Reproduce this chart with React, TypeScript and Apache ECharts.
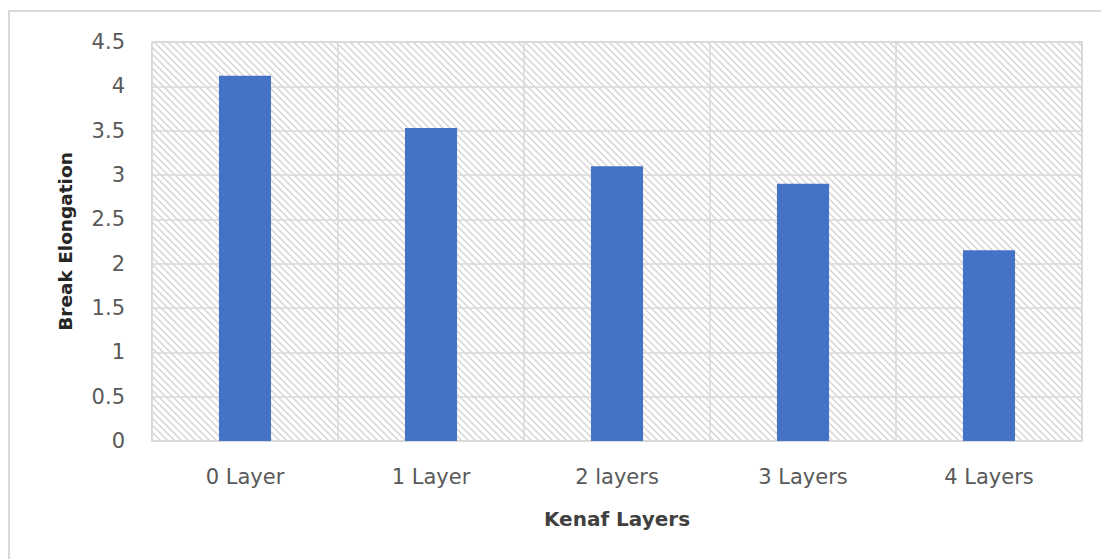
import React, { useEffect, useRef } from "react";
import * as echarts from "echarts";

const categories = ["0 Layer", "1 Layer", "2 layers", "3 Layers", "4 Layers"];
const breakElongation = [4.12, 3.53, 3.1, 2.9, 2.15];
const yMin = 0;
const yMax = 4.5;
const yInterval = 0.5;

function makeHatch(n: number): HTMLCanvasElement {
  const c = document.createElement("canvas");
  c.width = n;
  c.height = n;
  const ctx = c.getContext("2d")!;
  ctx.fillStyle = "#ffffff";
  ctx.fillRect(0, 0, n, n);
  ctx.strokeStyle = "#d2d2d2";
  ctx.lineWidth = 1.3;
  ctx.beginPath();
  ctx.moveTo(-1, -1);
  ctx.lineTo(n + 1, n + 1);
  ctx.moveTo(n - 1, -1);
  ctx.lineTo(n + 1, 1);
  ctx.moveTo(-1, n - 1);
  ctx.lineTo(1, n + 1);
  ctx.stroke();
  return c;
}

export default function App() {
  const ref = useRef<HTMLDivElement>(null);
  useEffect(() => {
    if (!ref.current) return;
    const chart = echarts.init(ref.current, undefined, { renderer: "svg" });
    const tile = 7;
    const hatch = makeHatch(tile);
    const font = "'DejaVu Sans', sans-serif";
    chart.setOption({
      animation: false,
      backgroundColor: "transparent",
      textStyle: { fontFamily: font },
      grid: {
        left: 152,
        top: 42,
        right: 19,
        bottom: 118,
        show: true,
        borderColor: "#d9d9d9",
        borderWidth: 1.5,
        backgroundColor: {
          image: hatch,
          repeat: "repeat",
          imageWidth: tile,
          imageHeight: tile,
        } as any,
      },
      xAxis: {
        type: "category",
        data: categories,
        name: "Kenaf Layers",
        nameLocation: "middle",
        nameGap: 68,
        nameTextStyle: { fontSize: 20, fontWeight: "bold", color: "#404040", fontFamily: font },
        axisLine: { lineStyle: { color: "#d9d9d9", width: 1.5 } },
        axisTick: { show: false },
        axisLabel: { fontSize: 21, color: "#595959", margin: 25, fontFamily: font },
        splitLine: { show: true, lineStyle: { color: "#d9d9d9", width: 1.5 } },
      },
      yAxis: {
        type: "value",
        min: yMin,
        max: yMax,
        interval: yInterval,
        name: "Break Elongation",
        nameLocation: "middle",
        nameGap: 77,
        nameTextStyle: { fontSize: 18.5, fontWeight: "bold", color: "#262626", fontFamily: font },
        axisLine: { show: false },
        axisTick: { show: false },
        axisLabel: { fontSize: 21, color: "#595959", margin: 27, fontFamily: font },
        splitLine: { show: true, lineStyle: { color: "#d9d9d9", width: 1.5 } },
      },
      series: [
        {
          type: "bar",
          data: breakElongation,
          barWidth: "28%",
          itemStyle: { color: "#4472c4" },
        },
      ],
    });
    return () => chart.dispose();
  }, []);
  return (
    <div
      style={{
        position: "absolute",
        left: 0,
        top: 0,
        width: 1101,
        height: 559,
        background: "#ffffff",
        overflow: "hidden",
      }}
    >
      <div
        style={{
          position: "absolute",
          left: 8,
          top: 10,
          width: 1100,
          height: 560,
          border: "2px solid #d9d9d9",
          boxSizing: "border-box",
        }}
      />
      <div ref={ref} style={{ position: "absolute", left: 0, top: 0, width: 1101, height: 559 }} />
    </div>
  );
}
